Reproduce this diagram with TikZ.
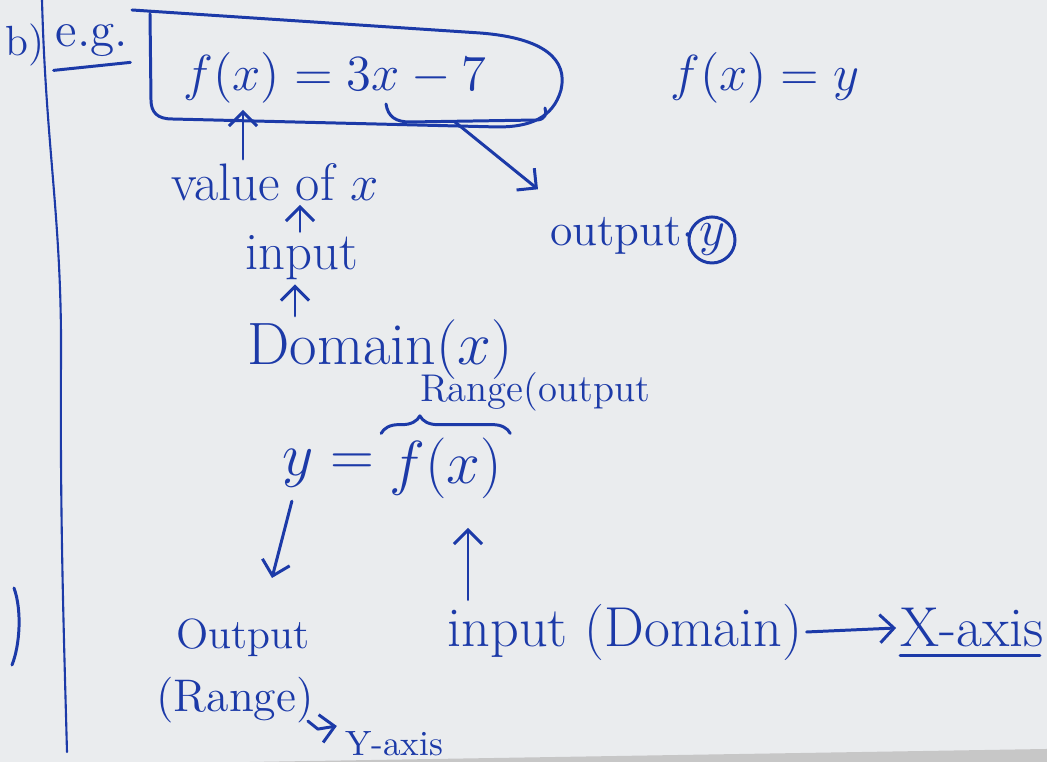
\documentclass[tikz,border=0pt]{standalone}
\usepackage{amsmath,amssymb}
\usepackage{tikz}
\usetikzlibrary{arrows.meta,positioning,calc,decorations.pathreplacing}
\definecolor{penblue}{RGB}{28,58,168}
\definecolor{paper}{RGB}{234,236,238}

\begin{document}
\begin{tikzpicture}[x=0.01cm, y=-0.01cm,
        ink/.style={text=penblue, inner sep=1pt},
        pen/.style={draw=penblue, line width=0.85pt, line cap=round, line join=round},
        penarrow/.style={pen, -{Straight Barb[length=4pt,width=8pt]}}]
    % sheet
    \fill[paper] (0,0) rectangle (1047,762);
    \useasboundingbox (0,0) rectangle (1047,762);
    \fill[black!22] (250,762) -- (1047,749) -- (1047,762) -- cycle;
    \draw[pen, line width=0.6pt] (42,0) .. controls (46,150) and (62,220) .. (61,360)
        .. controls (60,520) and (64,640) .. (67,752);
    \draw[pen] (14,588) .. controls (22,610) and (20,645) .. (12,665);

    % top line
    \node[ink, font=\fontsize{12}{14}\selectfont] (part) at (25,45) {b)};
    \node[ink, font=\fontsize{14}{16}\selectfont] (eg) at (92,40) {e.g.};
    \draw[pen] ($(eg.south west)+(2,10)$) -- ($(eg.south east)+(-2,2)$);
    \node[ink, font=\fontsize{14}{16}\selectfont] (rule) at (335,78) {$f(x) = 3x - 7$};
    \node[ink, font=\fontsize{14}{16}\selectfont] (rule2) at (765,78) {$f(x) = y$};
    \draw[pen] (132,10) -- (480,33) .. controls (545,38) and (568,60) .. (561,90)
        .. controls (553,118) and (530,127) .. (498,127) -- (172,119)
        .. controls (157,119) and (151,112) .. (151,100) -- (150,14);
    \draw[pen] (386,104) .. controls (388,117) and (396,122) .. (410,122) -- (538,120)
        .. controls (545,119) and (547,114) .. (545,108);
    \coordinate (argx) at (243,110);
    \coordinate (hookmid) at (455,122);

    % input chain
    \node[ink, font=\fontsize{15}{17}\selectfont] (valx) at (275,182) {value of $x$};
    \node[ink, font=\fontsize{15}{17}\selectfont] (inp) at (302,258) {input};
    \node[ink, font=\fontsize{17}{19}\selectfont] (dom) at (380,350) {Domain($x$)};
    \draw[penarrow] (valx.north -| argx) -- (argx);
    \draw[penarrow] (inp.north -| 300,0) -- (valx.south -| 300,0);
    \draw[penarrow] (dom.north -| 295,0) -- (inp.south -| 295,0);

    % output
    \node[ink, font=\fontsize{13}{15}\selectfont] (outp) at (622,236) {output$\cdot$};
    \node[ink, draw=penblue, line width=0.85pt, circle, minimum size=0.46cm,
        inner sep=0pt, font=\fontsize{14}{16}\selectfont] (outy) at (712,240) {$y$};
    \draw[penarrow] (hookmid) -- ($(outp.north west)+(-8,-24)$);

    % y = f(x)
    \node[ink, font=\fontsize{18}{20}\selectfont] (lhs) at (328,468) {$y =$};
    \node[ink, font=\fontsize{18}{20}\selectfont, right=2pt of lhs] (fxb) {$f(x)$};
    \draw[pen, decorate, decoration={brace, amplitude=5pt, aspect=0.3}]
        ($(fxb.north west)+(-4,0)$) -- ($(fxb.north east)+(4,0)$);
    \node[ink, font=\fontsize{11}{13}\selectfont] (rngout) at (535,392) {Range(output};
    \coordinate (argy) at (468,528);
    \coordinate (ydown) at (272,578);

    % bottom labels
    \node[ink, font=\fontsize{12}{14}\selectfont] (outn) at (243,638) {Output};
    \node[ink, font=\fontsize{13}{15}\selectfont] (rng) at (235,700) {(Range)};
    \node[ink, font=\fontsize{10}{12}\selectfont] (yax) at (394,744) {Y-axis};
    \node[ink, font=\fontsize{16}{18}\selectfont] (inpdom) at (625,632) {input (Domain)};
    \node[ink, font=\fontsize{16}{18}\selectfont] (xax) at (972,628) {X-axis};
    \draw[pen] ($(xax.south west)+(4,4)$) -- ($(xax.south east)+(-8,4)$);
    \draw[penarrow] ($(lhs.south west)+(14,10)$) -- (ydown);
    \draw[penarrow] (inpdom.north -| argy) -- (argy);
    \draw[penarrow] ($(rng.south east)+(-10,-6)$) -- ($(rng.south east)+(0,2)$)
        -- ($(yax.west)+(-4,-18)$);
    \draw[penarrow] (inpdom.east) -- (xax.west);
\end{tikzpicture}
\end{document}
